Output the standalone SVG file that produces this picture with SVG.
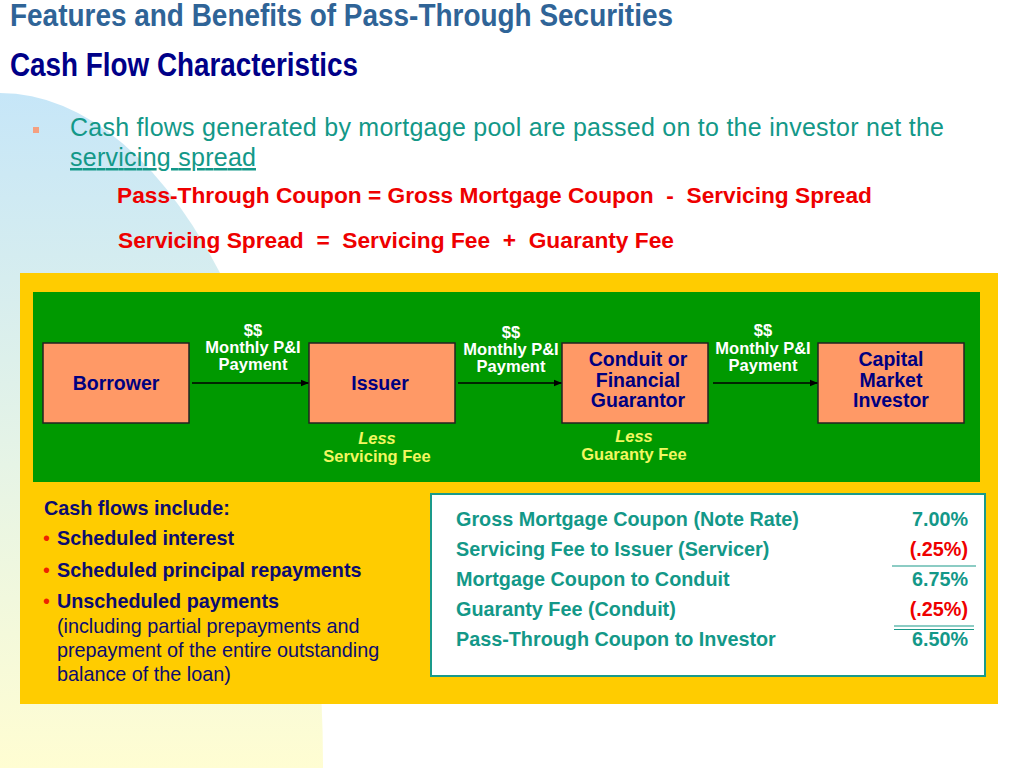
<svg xmlns="http://www.w3.org/2000/svg" width="1024" height="768" viewBox="0 0 1024 768">
<defs>
<linearGradient id="bg" x1="0" y1="93" x2="0" y2="768" gradientUnits="userSpaceOnUse">
<stop offset="0" stop-color="#c6e6f8"/>
<stop offset="0.55" stop-color="#e6f4e6"/>
<stop offset="1" stop-color="#fffdd2"/>
</linearGradient>
<marker id="arr" viewBox="0 0 10 10" refX="10" refY="5" markerWidth="8" markerHeight="8" markerUnits="userSpaceOnUse" orient="auto">
<path d="M0,1 L10,5 L0,9 Z" fill="#000"/>
</marker>
<style>
.t1{font-family:"Liberation Sans Narrow","Liberation Sans",Arial,sans-serif;font-weight:bold}
.sans{font-family:"Liberation Sans",Arial,sans-serif}
.b{font-weight:bold}
.red{fill:#ee0000;font-weight:bold;font-size:22.5px}
.teal{fill:#139888}
.node rect{fill:#ff9966;stroke:#222;stroke-width:1.5}
.node text{font-family:"Liberation Sans",Arial,sans-serif;font-weight:bold;font-size:19.5px;fill:#000080;text-anchor:middle}
.lbl{font-family:"Liberation Sans",Arial,sans-serif;font-weight:bold;font-size:16.5px;fill:#fff;text-anchor:middle}
.less{font-family:"Liberation Sans",Arial,sans-serif;font-weight:bold;font-size:16.5px;fill:#f2f760;text-anchor:middle}
.list{font-family:"Liberation Sans",Arial,sans-serif;font-size:19.8px;fill:#0c0c70}
.tbl{font-family:"Liberation Sans",Arial,sans-serif;font-weight:bold;font-size:19.8px;fill:#139888}
.conn line{stroke:#000;stroke-width:1.5;marker-end:url(#arr)}
</style>
</defs>
<rect width="1024" height="768" fill="#fff"/>
<path d="M0,93 A323,672 0 0 1 323,765 L323,768 L0,768 Z" fill="url(#bg)"/>

<g id="titles">
<text class="t1" x="10" y="26" font-size="31" fill="#2f6497" textLength="663" lengthAdjust="spacingAndGlyphs">Features and Benefits of Pass-Through Securities</text>
<text class="t1" x="10" y="76" font-size="33" fill="#000088" textLength="348" lengthAdjust="spacingAndGlyphs">Cash Flow Characteristics</text>
</g>

<g id="intro">
<rect x="33" y="127" width="6" height="6" fill="#f4a080"/>
<text class="sans teal" x="70" y="136" font-size="25" textLength="874">Cash flows generated by mortgage pool are passed on to the investor net the</text>
<text class="sans teal" x="70" y="166" font-size="25" text-decoration="underline" textLength="186">servicing spread</text>
<text class="sans red" x="117" y="203" textLength="755" lengthAdjust="spacingAndGlyphs" xml:space="preserve">Pass-Through Coupon = Gross Mortgage Coupon  -  Servicing Spread</text>
<text class="sans red" x="118" y="248" textLength="556" lengthAdjust="spacingAndGlyphs" xml:space="preserve">Servicing Spread  =  Servicing Fee  +  Guaranty Fee</text>
</g>

<rect x="20" y="273" width="978" height="431" fill="#ffcc00"/>
<rect x="33" y="292" width="947" height="190" fill="#009900"/>

<g id="connectors" class="conn">
<line x1="192" y1="383" x2="309" y2="383"/>
<line x1="458" y1="383" x2="562" y2="383"/>
<line x1="713" y1="383" x2="818" y2="383"/>
</g>

<g id="conn-labels">
<text class="lbl" x="253" y="336">$$</text>
<text class="lbl" x="253" y="353">Monthly P&amp;I</text>
<text class="lbl" x="253" y="370">Payment</text>
<text class="lbl" x="511" y="338">$$</text>
<text class="lbl" x="511" y="355">Monthly P&amp;I</text>
<text class="lbl" x="511" y="372">Payment</text>
<text class="lbl" x="763" y="336">$$</text>
<text class="lbl" x="763" y="354">Monthly P&amp;I</text>
<text class="lbl" x="763" y="371">Payment</text>
</g>

<g id="borrower" class="node">
<rect x="43" y="343" width="146" height="80"/>
<text x="116" y="390">Borrower</text>
</g>
<g id="issuer" class="node">
<rect x="309" y="343" width="146" height="80"/>
<text x="380" y="390">Issuer</text>
</g>
<g id="conduit" class="node">
<rect x="562" y="343" width="146" height="80"/>
<text x="638" y="366">Conduit or</text>
<text x="638" y="387">Financial</text>
<text x="638" y="407">Guarantor</text>
</g>
<g id="investor" class="node">
<rect x="818" y="343" width="146" height="80"/>
<text x="891" y="366">Capital</text>
<text x="891" y="387">Market</text>
<text x="891" y="407">Investor</text>
</g>

<g id="fees">
<text class="less" x="377" y="444" font-style="italic">Less</text>
<text class="less" x="377" y="462">Servicing Fee</text>
<text class="less" x="634" y="442" font-style="italic">Less</text>
<text class="less" x="634" y="460">Guaranty Fee</text>
</g>

<g id="cashflows" class="list">
<text class="b" x="44" y="515">Cash flows include:</text>
<text x="43" y="545"><tspan fill="#ee2200">•</tspan></text>
<text class="b" x="57" y="545">Scheduled interest</text>
<text x="43" y="577"><tspan fill="#ee2200">•</tspan></text>
<text class="b" x="57" y="577">Scheduled principal repayments</text>
<text x="43" y="608"><tspan fill="#ee2200">•</tspan></text>
<text class="b" x="57" y="608">Unscheduled payments</text>
<text x="57" y="633">(including partial prepayments and</text>
<text x="57" y="657">prepayment of the entire outstanding</text>
<text x="57" y="681">balance of the loan)</text>
</g>

<g id="table">
<rect x="431" y="494" width="554" height="182" fill="#fff" stroke="#1a9a8a" stroke-width="2"/>
<text class="tbl" x="456" y="526">Gross Mortgage Coupon (Note Rate)</text>
<text class="tbl" x="456" y="556">Servicing Fee to Issuer (Servicer)</text>
<text class="tbl" x="456" y="586">Mortgage Coupon to Conduit</text>
<text class="tbl" x="456" y="616">Guaranty Fee (Conduit)</text>
<text class="tbl" x="456" y="646">Pass-Through Coupon to Investor</text>
<text class="tbl" x="968" y="526" text-anchor="end">7.00%</text>
<text class="tbl" x="968" y="556" text-anchor="end" style="fill:#ee0000">(.25%)</text>
<text class="tbl" x="968" y="586" text-anchor="end">6.75%</text>
<text class="tbl" x="968" y="616" text-anchor="end" style="fill:#ee0000">(.25%)</text>
<text class="tbl" x="968" y="646" text-anchor="end">6.50%</text>
<line x1="892" y1="566" x2="976" y2="566" stroke="#1a9a8a" stroke-width="1.2"/>
<line x1="894" y1="626" x2="974" y2="626" stroke="#1a9a8a" stroke-width="1.2"/>
<line x1="894" y1="629.5" x2="974" y2="629.5" stroke="#1a9a8a" stroke-width="1.2"/>
</g>
</svg>
